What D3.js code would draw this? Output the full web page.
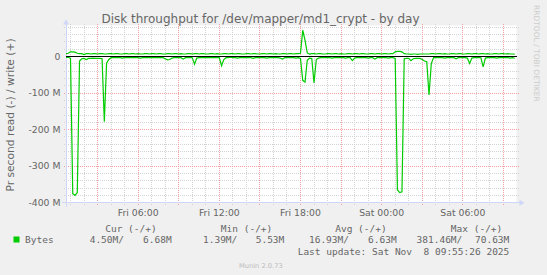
<!doctype html>
<html>
  <head>
    <meta charset="utf-8" />
    <title>Disk throughput</title>
    <script src="https://cdn.jsdelivr.net/npm/d3@7"></script>
    <style>
      html,
      body {
        margin: 0;
        padding: 0;
        overflow: hidden;
        background: #f0f0f0;
      }
      text {
        font-family: "DejaVu Sans", sans-serif;
        fill: #666666;
      }
      .mono {
        font-family: "DejaVu Sans Mono", monospace;
        white-space: pre;
      }
    </style>
  </head>
  <body>
    <script>
      // time window of the graph, one sample every 10 minutes from startTime
      const startTime = new Date(2025, 10, 7, 0, 40);
      const endTime = new Date(2025, 10, 8, 9, 58);
      const stepMinutes = 10;

      // read bytes per second, in M (drawn below zero)
      const readM = [
        2, 2, 5, 375, 380, 372, 12, 6, 5, 8, 5, 5, 4, 5, 5, 5, 6, 178, 18, 8,
        3, 3, 2, 3, 3, 4, 3, 2, 3, 3, 2, 3, 3, 4, 3, 3, 2, 3, 3, 3,
        2, 3, 3, 3, 6, 9, 8, 4, 3, 3, 2, 3, 7, 3, 3, 2, 3, 21, 4, 3,
        3, 2, 3, 3, 3, 2, 3, 3, 3, 25, 8, 3, 3, 1.4, 3, 3, 4, 3, 3, 2,
        3, 3, 3, 5, 3, 3, 2, 3, 3, 4, 3, 3, 2, 3, 3, 4, 7, 3, 3, 2,
        3, 3, 4, 3, 5, 65, 70, 10, 4, 5, 72, 8, 4, 3, 3, 2, 3, 3, 4, 3,
        3, 2, 3, 3, 4, 3, 3, 11, 4, 3, 2, 3, 3, 3, 4, 3, 3, 7, 3, 3,
        2, 3, 3, 4, 3, 3, 5, 365, 372, 370, 6, 5, 5, 11, 6, 5, 5, 5, 8, 12,
        14, 105, 20, 3, 3, 2, 3, 3, 4, 3, 3, 2, 3, 6, 3, 3, 2, 3, 4, 19,
        4, 3, 3, 2, 3, 28, 4, 3, 3, 2, 3, 4, 3, 3, 3, 2, 3, 4, 3, 4.5,
      ];

      // write bytes per second, in M (drawn above zero)
      const writeM = [
        8, 9, 13, 13, 12, 9, 8, 8, 5.5, 8, 8, 7, 8, 8, 7, 8, 8, 7, 7, 8,
        8, 7, 8, 8, 7, 7, 8, 8, 7, 8, 8, 7, 8, 7, 7, 8, 8, 7, 8, 8,
        7, 8, 8, 7, 7, 8, 8, 7, 8, 8, 7, 8, 7, 7, 8, 8, 7, 8, 8, 7,
        8, 8, 7, 7, 8, 8, 7, 8, 7, 7, 8, 8, 7, 8, 8, 7, 8, 8, 7, 7,
        8, 8, 7, 8, 8, 7, 7, 8, 8, 7, 8, 8, 7, 8, 7, 7, 8, 8, 7, 8,
        8, 7, 8, 8, 9, 72, 45, 10, 7, 8, 8, 7, 8, 8, 7, 7, 8, 8, 7, 8,
        8, 7, 8, 7, 7, 8, 8, 7, 8, 8, 7, 8, 8, 7, 7, 8, 8, 7, 8, 8,
        7, 8, 8, 7, 8, 8, 13, 14, 14, 13, 8, 7, 7, 6, 7, 7, 6, 7, 7, 7,
        7, 7, 8, 8, 7, 8, 8, 7, 8, 7, 7, 8, 8, 7, 8, 8, 7, 7, 8, 8,
        7, 8, 8, 7, 8, 8, 7, 8, 7, 7, 8, 8, 7, 8, 8, 7, 8, 7, 7, 6.68,
      ];

      const yTicks = [0, -100, -200, -300, -400];
      const xTickTimes = [
        new Date(2025, 10, 7, 6),
        new Date(2025, 10, 7, 12),
        new Date(2025, 10, 7, 18),
        new Date(2025, 10, 8, 0),
        new Date(2025, 10, 8, 6),
      ];

      const legendHeaders = ["Cur (-/+)", "Min (-/+)", "Avg (-/+)", "Max (-/+)"];
      const legendRead = ["4.50M/", "1.39M/", "16.93M/", "381.46M/"];
      const legendWrite = ["6.68M", "5.53M", "6.63M", "70.63M"];
      const lastUpdate = "Last update: Sat Nov  8 09:55:26 2025";

      const width = 547;
      const height = 275;
      const green = "#00cc00";
      const axisColor = "#cfd6f8";

      const svg = d3
        .select("body")
        .append("svg")
        .attr("width", width)
        .attr("height", height);

      svg
        .append("rect")
        .attr("width", width)
        .attr("height", height)
        .attr("fill", "#f0f0f0");

      const x = d3.scaleTime().domain([startTime, endTime]).range([66, 516.5]);
      const y = d3.scaleLinear().domain([-400, 85]).range([202.8, 25.5]);

      // white canvas
      svg
        .append("rect")
        .attr("x", x.range()[0])
        .attr("y", y.range()[1])
        .attr("width", x.range()[1] - x.range()[0])
        .attr("height", y.range()[0] - y.range()[1])
        .attr("fill", "#ffffff");

      const grid = svg
        .append("g")
        .attr("shape-rendering", "crispEdges")
        .attr("stroke-width", 1)
        .attr("stroke-dasharray", "1,1");

      // horizontal grid, minor every 20M, major every 100M
      const minorY = d3.range(-380, 85, 20).filter((v) => v % 100 !== 0);
      grid
        .selectAll("line.hmin")
        .data(minorY)
        .join("line")
        .attr("x1", x.range()[0] - 2)
        .attr("x2", x.range()[1] + 2)
        .attr("y1", (d) => y(d))
        .attr("y2", (d) => y(d))
        .attr("stroke", "#d4d4d4");

      // vertical grid, minor every hour, major every 3 hours
      const hours = d3.timeHour.range(startTime, endTime);
      grid
        .selectAll("line.vmin")
        .data(hours.filter((d) => d.getHours() % 3 !== 0))
        .join("line")
        .attr("x1", (d) => x(d))
        .attr("x2", (d) => x(d))
        .attr("y1", y.range()[1] - 2)
        .attr("y2", y.range()[0] + 2)
        .attr("stroke", "#d4d4d4");

      grid
        .selectAll("line.hmaj")
        .data([-100, -200, -300])
        .join("line")
        .attr("x1", x.range()[0] - 2)
        .attr("x2", x.range()[1] + 2)
        .attr("y1", (d) => y(d))
        .attr("y2", (d) => y(d))
        .attr("stroke", "#f0a0a0");

      grid
        .selectAll("line.vmaj")
        .data(hours.filter((d) => d.getHours() % 3 === 0))
        .join("line")
        .attr("x1", (d) => x(d))
        .attr("x2", (d) => x(d))
        .attr("y1", y.range()[1] - 2)
        .attr("y2", y.range()[0] + 2)
        .attr("stroke", "#f0a0a0");

      // axes
      const axes = svg.append("g").attr("shape-rendering", "crispEdges");
      axes
        .append("line")
        .attr("x1", x.range()[0] - 4)
        .attr("x2", x.range()[1] + 4)
        .attr("y1", y.range()[0])
        .attr("y2", y.range()[0])
        .attr("stroke", axisColor);
      axes
        .append("line")
        .attr("x1", x.range()[0])
        .attr("x2", x.range()[0])
        .attr("y1", y.range()[0] + 4)
        .attr("y2", y.range()[1] - 2)
        .attr("stroke", axisColor);

      const x0 = x.range()[0];
      const xr = x.range()[1];
      const yb = y.range()[0];
      const yt = y.range()[1];
      svg
        .append("path")
        .attr("d", `M${xr + 3},${yb - 3} L${xr + 8},${yb} L${xr + 3},${yb + 3} Z`)
        .attr("fill", axisColor);
      svg
        .append("path")
        .attr("d", `M${x0 - 3},${yt - 1} L${x0},${yt - 6} L${x0 + 3},${yt - 1} Z`)
        .attr("fill", axisColor);

      // tick labels
      svg
        .append("g")
        .selectAll("text")
        .data(yTicks)
        .join("text")
        .attr("x", 60.5)
        .attr("y", (d) => y(d))
        .attr("dy", "0.35em")
        .attr("text-anchor", "end")
        .style("font-size", "9.3px")
        .text((d) => (d === 0 ? "0" : `${d} M`));

      const fmt = d3.timeFormat("%a %H:%M");
      svg
        .append("g")
        .selectAll("text")
        .data(xTickTimes)
        .join("text")
        .attr("x", (d) => x(d))
        .attr("y", 216)
        .attr("text-anchor", "middle")
        .style("font-size", "9.3px")
        .text((d) => fmt(d));

      // data lines
      const timeAt = (i) => new Date(startTime.getTime() + i * stepMinutes * 60000);
      const line = d3
        .line()
        .x((d, i) => x(timeAt(i)))
        .y((d) => y(d));

      svg
        .append("path")
        .datum(readM.map((v) => -v))
        .attr("d", line)
        .attr("fill", "none")
        .attr("stroke", green)
        .attr("stroke-width", 1.2);

      svg
        .append("path")
        .datum(writeM)
        .attr("d", line)
        .attr("fill", "none")
        .attr("stroke", green)
        .attr("stroke-width", 1.2);

      // zero rule
      svg
        .append("line")
        .attr("x1", x0)
        .attr("x2", xr)
        .attr("y1", y(0))
        .attr("y2", y(0))
        .attr("stroke", "#000")
        .attr("stroke-width", 1)
        .attr("shape-rendering", "crispEdges");

      // titles
      svg
        .append("text")
        .attr("x", 260.5)
        .attr("y", 23)
        .attr("text-anchor", "middle")
        .style("font-size", "12px")
        .text("Disk throughput for /dev/mapper/md1_crypt - by day");

      svg
        .append("text")
        .attr("transform", "translate(13.5,115) rotate(-90)")
        .attr("text-anchor", "middle")
        .style("font-size", "10.7px")
        .text("Pr second read (-) / write (+)");

      svg
        .append("text")
        .attr("transform", "translate(534,5) rotate(90)")
        .style("font-size", "7.5px")
        .style("fill", "#cccccc")
        .text("RRDTOOL / TOBI OETIKER");

      // legend
      const legend = svg.append("g").attr("class", "legend");
      const headerEnds = [156.7, 272.3, 386.7, 502.3];
      const readEnds = [124, 237.3, 349, 462.3];
      const writeEnds = [171.7, 284.3, 396.7, 509.3];

      legend
        .selectAll("text.head")
        .data(legendHeaders)
        .join("text")
        .attr("class", "mono")
        .attr("x", (d, i) => headerEnds[i])
        .attr("y", 231.5)
        .attr("text-anchor", "end")
        .style("font-size", "9.5px")
        .text((d) => d);

      legend
        .append("rect")
        .attr("x", 13.5)
        .attr("y", 236.5)
        .attr("width", 6)
        .attr("height", 6)
        .attr("fill", green);

      legend
        .append("text")
        .attr("class", "mono")
        .attr("x", 25)
        .attr("y", 243)
        .style("font-size", "9.5px")
        .text("Bytes");

      legend
        .selectAll("text.read")
        .data(legendRead)
        .join("text")
        .attr("class", "mono")
        .attr("x", (d, i) => readEnds[i])
        .attr("y", 243)
        .attr("text-anchor", "end")
        .style("font-size", "9.5px")
        .text((d) => d);

      legend
        .selectAll("text.write")
        .data(legendWrite)
        .join("text")
        .attr("class", "mono")
        .attr("x", (d, i) => writeEnds[i])
        .attr("y", 243)
        .attr("text-anchor", "end")
        .style("font-size", "9.5px")
        .text((d) => d);

      legend
        .append("text")
        .attr("class", "mono")
        .attr("x", 509.3)
        .attr("y", 254.5)
        .attr("text-anchor", "end")
        .style("font-size", "9.5px")
        .text(lastUpdate);

      svg
        .append("text")
        .attr("x", 260.8)
        .attr("y", 267.5)
        .attr("text-anchor", "middle")
        .style("font-size", "6.7px")
        .style("fill", "#bbbbbb")
        .text("Munin 2.0.73");
    </script>
  </body>
</html>
